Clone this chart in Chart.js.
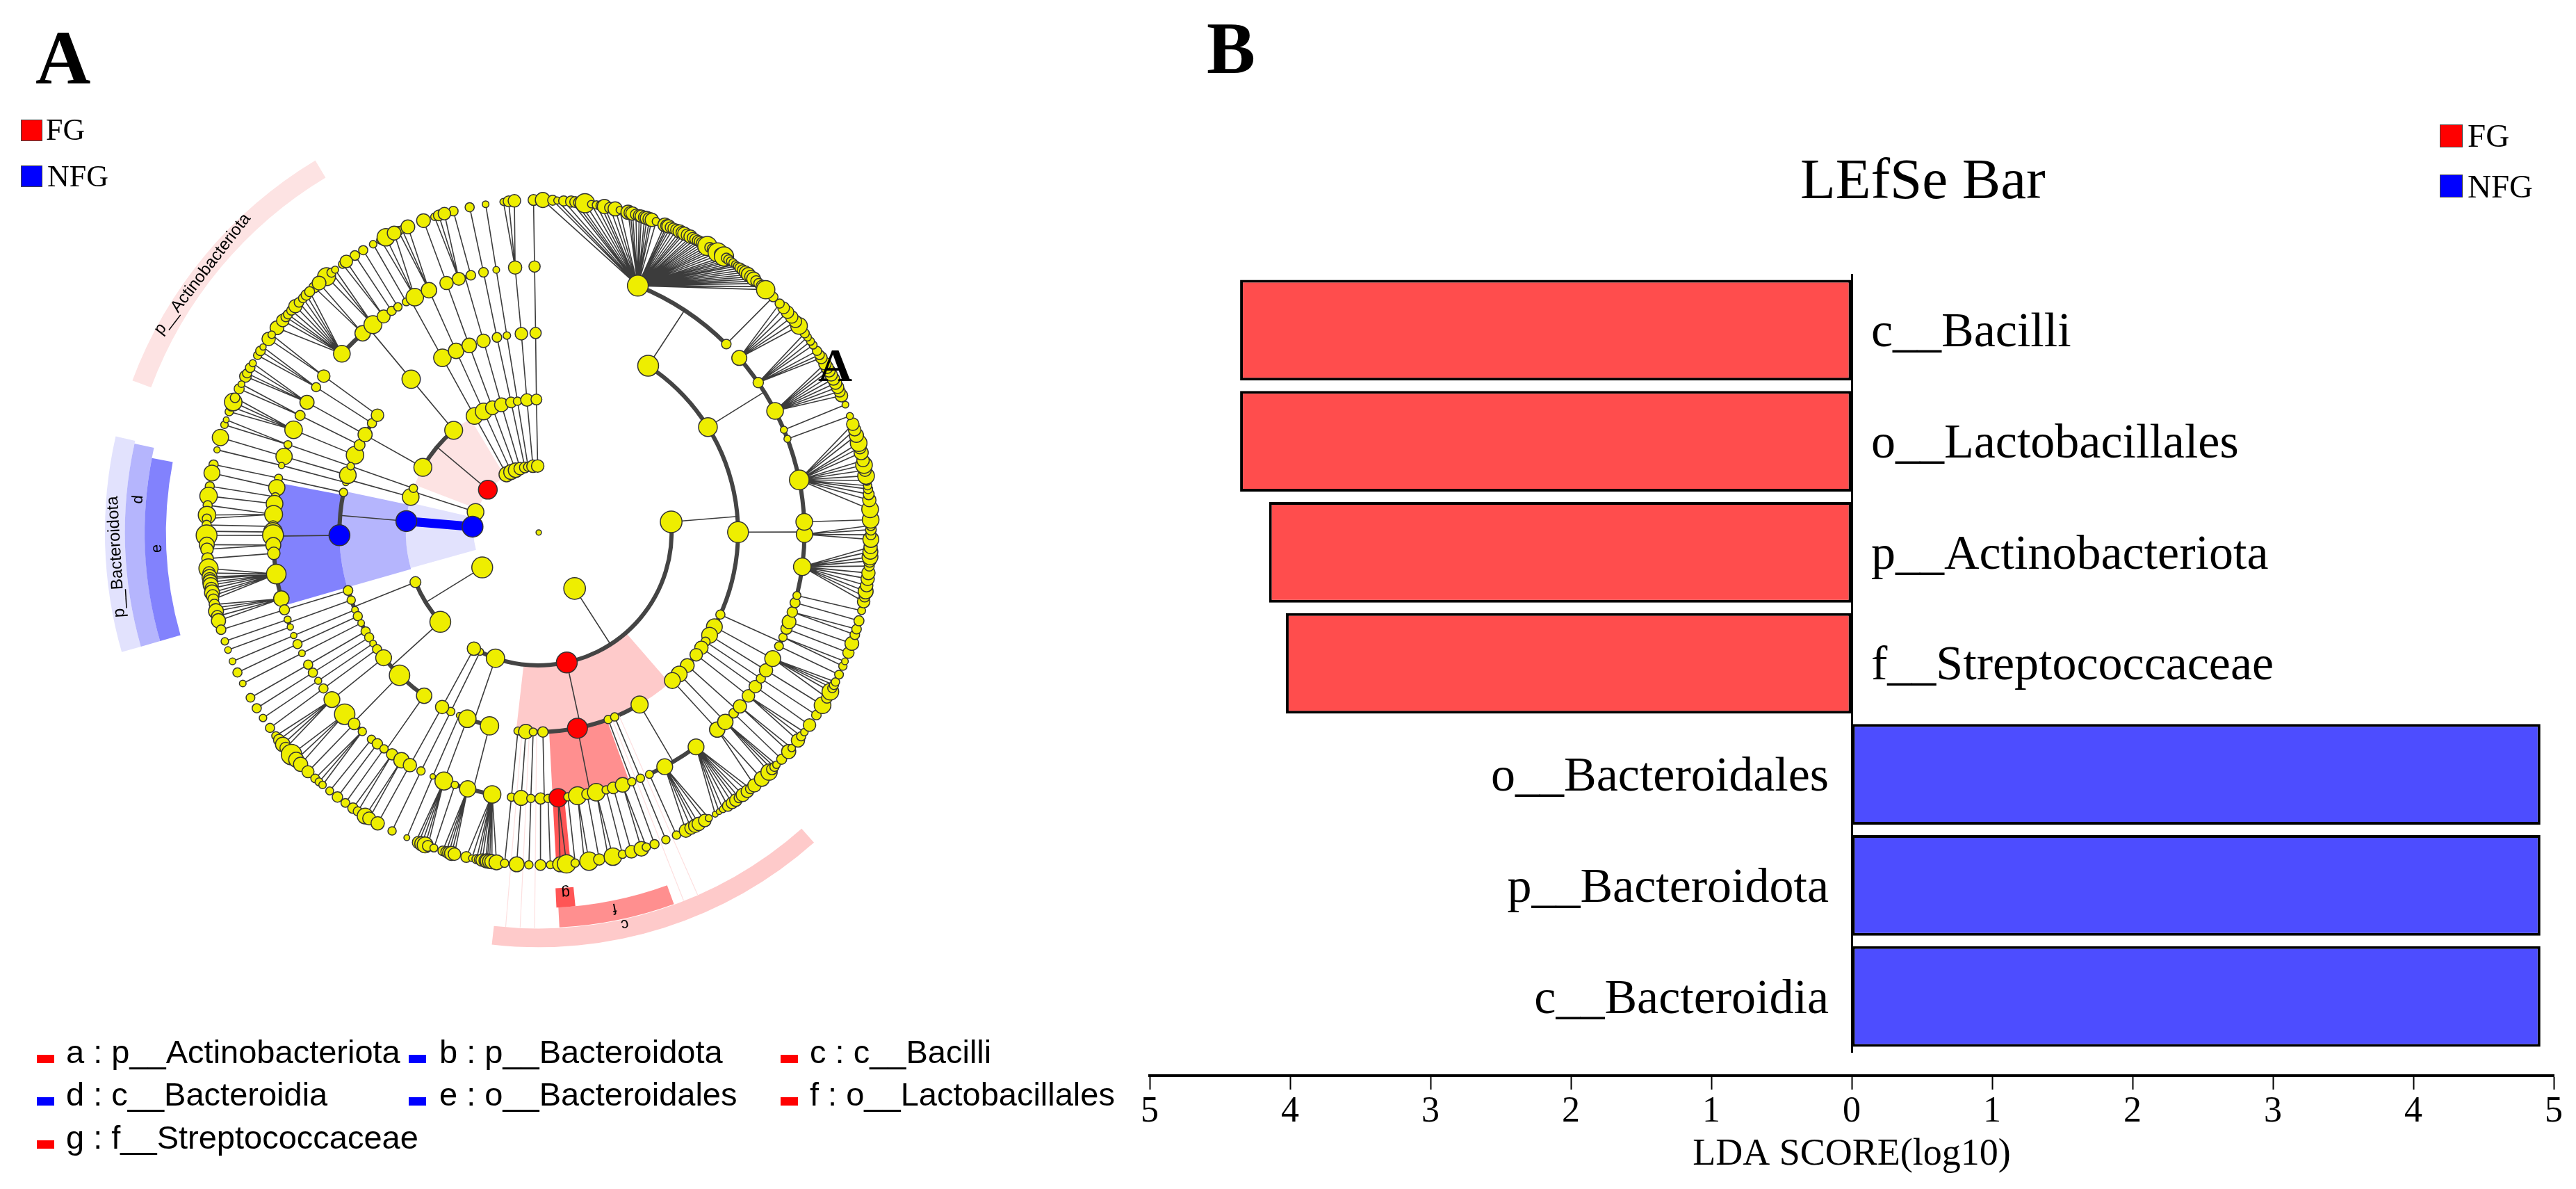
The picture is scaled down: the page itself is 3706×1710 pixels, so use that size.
<!DOCTYPE html>
<html>
<head>
<meta charset="utf-8">
<script src="https://cdn.jsdelivr.net/npm/chart.js@4"></script>
<style>
  html, body { margin: 0; background: #fff; }
  #page { position: relative; width: 3706px; height: 1710px; overflow: hidden; }
  canvas { position: absolute; top: 0; }
  .t { position: absolute; line-height: 1; white-space: pre; color: #000; font-family: "Liberation Serif", serif; z-index: 5; }
  .s { font-family: "Liberation Sans", sans-serif; font-size: 47px; }
  .box { position: absolute; box-sizing: border-box; border: 1px solid #444; z-index: 5; }
  .dash { position: absolute; width: 25px; height: 12px; z-index: 5; }
</style>
</head>
<body>
<div id="page">
  <canvas id="clado" width="1650" height="1710" style="left:0"></canvas>
  <canvas id="lda" width="2106" height="1710" style="left:1600px"></canvas>

  <div class="t" style="left:51px;top:28px;font-size:110px;font-weight:bold">A</div>
  <div class="t" style="left:1736px;top:17px;font-size:105px;font-weight:bold">B</div>
  <div class="t" style="left:1177px;top:491px;font-size:68px;font-weight:bold">A</div>

  <div class="box" style="left:30px;top:172px;width:31px;height:31px;background:#f00"></div>
  <div class="t" style="left:66px;top:165px;font-size:44px">FG</div>
  <div class="box" style="left:30px;top:238px;width:31px;height:31px;background:#00f"></div>
  <div class="t" style="left:68px;top:232px;font-size:44px">NFG</div>

  <div class="box" style="left:3510px;top:179px;width:33px;height:33px;background:#f00"></div>
  <div class="t" style="left:3550px;top:172px;font-size:47px">FG</div>
  <div class="box" style="left:3510px;top:251px;width:33px;height:33px;background:#00f"></div>
  <div class="t" style="left:3550px;top:245px;font-size:47px">NFG</div>

  <div class="t" style="left:2590px;top:216px;font-size:83px">LEfSe Bar</div>

  <div class="dash" style="left:53px;top:1517px;background:#f00"></div>
  <div class="t s" style="left:95px;top:1489px">a : p__Actinobacteriota</div>
  <div class="dash" style="left:588px;top:1517px;background:#00f"></div>
  <div class="t s" style="left:632px;top:1489px">b : p__Bacteroidota</div>
  <div class="dash" style="left:1123px;top:1517px;background:#f00"></div>
  <div class="t s" style="left:1165px;top:1489px">c : c__Bacilli</div>
  <div class="dash" style="left:53px;top:1578px;background:#00f"></div>
  <div class="t s" style="left:95px;top:1550px">d : c__Bacteroidia</div>
  <div class="dash" style="left:588px;top:1578px;background:#00f"></div>
  <div class="t s" style="left:632px;top:1550px">e : o__Bacteroidales</div>
  <div class="dash" style="left:1123px;top:1578px;background:#f00"></div>
  <div class="t s" style="left:1165px;top:1550px">f : o__Lactobacillales</div>
  <div class="dash" style="left:53px;top:1640px;background:#f00"></div>
  <div class="t s" style="left:95px;top:1612px">g : f__Streptococcaceae</div>
</div>

<script>
// panel B values
const taxa = ["c__Bacilli", "o__Lactobacillales", "p__Actinobacteriota", "f__Streptococcaceae",
  "o__Bacteroidales", "p__Bacteroidota", "c__Bacteroidia"];
const ldaScores = [-4.356, -4.356, -4.15, -4.03, 4.905, 4.905, 4.905];
const ldaTicks = [5, 4, 3, 2, 1, 0, 1, 2, 3, 4, 5];

// panel A tree: ring 1 is phylum ... ring 5 is genus, angles in degrees clockwise from the top
// each group is [parent angle, child angles, child abundances]
const ring1Angles = [331, 335.5, 339.6, 343.8, 348, 350.8, 355, 359.1, 310, 288, 275, 238.3, 147.3];
const ring1Abundance = [3.6, 3.6, 3.5, 3, 2.6, 2.2, 3, 3, 4.5, 4, 5, 5, 5.2];

const ring2Groups = [
  [331, [331.1], [4]], [335.5, [335.5], [4]], [339.6, [339.6], [3.3]], [343.8, [343.7], [3.3]],
  [348, [348], [2.6]], [350.8, [350.8], [2]], [355, [354.9], [3]], [359.1, [359], [2.6]],
  [310, [299.3, 320.2], [4.3, 4.3]], [288, [285.5, 289.4], [4, 2]], [275, [274.9], [5]],
  [238.3, [248.1, 227.8], [2.6, 5]],
  [147.3, [85.4, 167.8, 199, 206.2, 209.2], [5.2, 5, 4.4, 1.7, 3.2]]
];

const ring3Groups = [
  [331.1, [331.1], [4.2]], [335.5, [335.5], [3.7]], [339.6, [339.6], [3.5]], [343.7, [343.9], [3.2]],
  [348, [347.9], [2.3]], [350.8, [350.8], [1.8]], [354.9, [355], [3]], [359, [359.1], [2.7]],
  [299.3, [292.8, 296, 299.4, 303.2, 306], [4.2, 2.6, 3.4, 2.2, 3]],
  [320.2, [320.2], [4.4]], [285.5, [284.5, 286.7], [1.5, 4]], [289.4, [289.4], [1.8]],
  [274.9, [269.2, 281.6], [5, 2]],
  [248.1, [253.1, 250.2, 247.2, 245.2, 243, 240.3, 238.3, 236.2, 234.2], [2.3, 2, 1.6, 2.2, 1.6, 2.2, 2.2, 1.6, 2.2]],
  [227.8, [231.1, 224.3, 215.1], [3.8, 4.9, 3.7]],
  [167.8, [186, 183.7, 181.6, 178.8, 168.8, 159.6, 157.6, 149.6], [1.9, 3.5, 1.9, 2.5, 4.8, 2, 2, 4.1]],
  [199, [203.5, 201, 194.3], [1.4, 4.2, 4.4]], [206.2, [206.2], [2]], [209.2, [209], [3.2]],
  [85.4, [33.3, 58.1, 89.9, 114.3, 118.2, 121, 123.2, 125.3, 127.8, 131.8, 135.2, 137.9],
    [5, 4.5, 5, 2.2, 3.8, 3.8, 2.2, 3.2, 3, 3.3, 3.8, 3.8]]
];

const ring4Groups = [
  [331.1, [330.1, 332.2], [1.9, 4.2]], [335.5, [335.6], [3.7]], [339.6, [339.7], [3.2]],
  [343.9, [342.5, 345.2], [3.1, 2.3]], [347.9, [348], [2.3]], [350.8, [350.8], [1.6]],
  [355, [354.9], [3.2]], [359.1, [359.1], [2.7]],
  [320.2, [312.2, 318.5, 321.4, 324.3, 326.4, 328], [4, 3.7, 4.3, 3.1, 2.2, 2]],
  [306, [306], [3]], [303.2, [303.1], [2.2]], [299.4, [299.3], [3.4]], [296, [296.1], [2.4]],
  [292.8, [292.7], [4.2]], [289.4, [289.3], [1.9]], [286.7, [286.6], [3.9]], [284.5, [284.6], [1.5]],
  [281.6, [281.8], [1.9]],
  [269.2, [279.7, 277.7, 276.2, 273.9, 271.3, 270.1, 269.4, 267.3, 265.5, 261, 255.6],
    [3.9, 2, 4, 4.3, 2.7, 4.5, 5, 3.6, 3, 4.7, 3.7]],
  [253.1, [253.1], [2.4]], [250.2, [250.9, 249.2], [1.7, 1.5]], [247.2, [247.2], [1.5]],
  [245.2, [245.2], [2.2]], [243, [243], [1.6]], [240.3, [240.2], [2.2]], [238.3, [238.2], [2.2]],
  [236.2, [236.1], [1.7]], [234.2, [234.1], [2.2]], [231.1, [231.1], [3.8]],
  [224.3, [226.9, 224, 221.6], [4.9, 2.8, 2]],
  [215.1, [219, 217.4, 215.6, 213.5, 211.1], [2, 2.5, 2, 2.7, 3.7]],
  [209, [209], [3.2]], [206.2, [206.3], [2]], [203.5, [203.5], [1.3]], [201, [200.9], [4.3]],
  [194.3, [198.4, 195.5, 190.1], [1.8, 3.9, 4.2]],
  [186, [185.9], [2]], [183.7, [183.8], [3.6]], [181.6, [181.7], [2]], [178.8, [179.6, 178], [2.7, 2]],
  [168.8, [175.8, 173.7, 171.6, 169.5, 167.5, 165.3, 163.7, 161.6], [4.4, 2, 4.3, 2.6, 4.2, 2, 2.8, 3.5]],
  [159.6, [159.5], [2]], [157.6, [157.5], [2]], [149.6, [155.4, 151.7, 143.7], [1.9, 3.8, 3.8]],
  [137.9, [137.8], [3.7]], [135.2, [135.4], [3.7]], [131.8, [132.8, 130.8], [2.3, 3.2]],
  [127.8, [127.9], [3]], [125.3, [125.4], [3]], [123.2, [123.3], [2.2]], [121, [121.2], [3.2]],
  [118.2, [118.3], [3.8]],
  [114.3, [115.3, 113.2, 111.2, 109.6, 107.4, 105.3], [2.1, 2, 2.7, 3.3, 2.5, 2.4]],
  [89.9, [90.4, 97.4, 103.7], [3.9, 4.2, 1.9]],
  [58.1, [49, 55.7, 62.8, 67.3, 69.4, 78.6, 87.7], [3.6, 2.5, 4, 1.7, 1.7, 4.7, 4]],
  [33.3, [21.9, 44.9], [5, 2.3]]
];

const ring5Groups = [
  [359.1, [359.1], [2.6]], [354.9, [353.9, 354.8, 355.8], [1.7, 2.6, 3]], [350.8, [350.8], [1.6]],
  [348, [348], [2.2]], [345.2, [345.1], [2.3]], [342.5, [341.7, 342.5, 343.5], [1.8, 2.6, 3]],
  [339.7, [339.7], [3.3]], [335.6, [335, 335.7, 336.8], [2.2, 1.8, 3.3]],
  [332.2, [331.6, 332.6, 334.2], [2, 4.2, 3.3]], [330.1, [330.1], [1.8]], [328, [328.1], [2.2]],
  [326.4, [326.4], [2.3]], [324.3, [323.8, 324.6], [2, 3]], [321.4, [320.3, 321.4, 322.2], [4.3, 2.2, 1.7]],
  [318.5, [317.5, 318.6], [2.6, 3.3]],
  [312.2, [308, 309.6, 310.4, 311, 311.9, 312.9, 313.8, 314.8, 315.6, 316.4], [3.3, 3, 2.3, 2.2, 2.3, 3.2, 2.3, 2.2, 2.5, 2.4]],
  [306, [305.6, 306.5], [3.2, 1.8]], [303.1, [302.2, 303.1, 303.9], [2, 2.3, 1.5]],
  [299.3, [298, 298.6, 299.7, 300.6], [2.8, 2.2, 2.3, 1.7]], [296.1, [295.6, 296.5], [2.4, 1.6]],
  [292.7, [291.3, 292.2, 293.1, 293.9], [2, 2, 4.2, 2.3]], [289.3, [288.9, 289.8], [1.8, 1.4]],
  [286.6, [286.6], [3.9]], [284.6, [284.4], [1.5]], [281.8, [281.8], [2.2]],
  [279.7, [280.3], [3.8]], [277.7, [278], [2.2]], [276.2, [276.3], [4.2]],
  [273.9, [274.7, 273, 272.4], [2.2, 4.2, 2.2]], [271.3, [271.3], [2.2]], [270.1, [270.2], [3]],
  [269.4, [269.5], [5]], [267.3, [267.9, 267.1], [3.6, 3]], [265.5, [265.5], [2.8]],
  [261, [263.8, 263, 262.3, 262, 261.4, 260.9, 260.3, 259.6, 259, 258.4], [4.6, 3, 3.6, 3, 3.6, 3.6, 3, 3.6, 3, 2.6]],
  [255.6, [257.5, 256.9, 256.3, 255.4, 254.6], [2.5, 2, 3.6, 2.8, 3.4]],
  [253.1, [253], [2.3]], [250.9, [250.9], [1.8]], [249.2, [249.3], [1.6]], [247.2, [247.2], [1.6]],
  [245.2, [245.1], [2.2]], [243, [243], [1.6]], [240.2, [240.2], [2.1]], [238.2, [238.1], [2.2]],
  [236.1, [236.1], [1.8]], [234.1, [234], [2.2]],
  [231.1, [232.3, 231.4, 230.4, 229.6], [2, 2.7, 3.5, 2.8]],
  [226.9, [228.1, 226.9, 225.8], [4.9, 3.6, 3.4]], [224, [224], [2.9]],
  [221.6, [222.3, 221.4, 220.6], [2.1, 1.9, 1.8]], [219, [219], [1.9]], [217.4, [217.3], [2.5]],
  [215.6, [215.6], [2.1]], [213.5, [214, 213], [2.5, 2.2]], [211.1, [211.5, 210.7], [3.8, 3.1]],
  [209, [209], [3.2]], [206.3, [206.2], [2]], [203.5, [203.4], [1.4]],
  [200.9, [201.7, 201.2, 200.6, 200, 199.5], [1.5, 3, 3.4, 3.8, 2.6]], [198.4, [198.4], [1.9]],
  [195.5, [196.8, 196.2, 195.7, 195.2, 194.7], [2.3, 2.5, 3, 3.4, 3]],
  [190.1, [192.6, 191.6, 190.8, 190.3, 189.8, 189.2, 188.9, 188.5, 188.1, 187.3], [2.6, 1.6, 2.2, 2.4, 3, 3.2, 3.4, 3.4, 3.4, 3.6]],
  [185.9, [185.9], [2]], [183.8, [183.8], [3.6]], [181.7, [181.7], [2]], [179.6, [179.7], [2.6]],
  [178, [178], [1.9]], [175.8, [176.3, 175.2], [3.6, 4.4]], [173.7, [173.7], [2]],
  [171.6, [172.1, 171.3], [1.6, 4.4]], [169.5, [169.5], [2.7]], [167.5, [167.9, 167.1], [1.5, 4.2]],
  [165.3, [165.4], [2]], [163.7, [163.8], [3]], [161.6, [162, 161.1], [3.5, 2]], [159.5, [159.6], [2.2]],
  [157.5, [157.5], [2]], [155.4, [155.5], [2]],
  [151.7, [153.7, 152.7, 151.9, 151.2, 150, 149.2], [3.2, 3, 3.2, 3.2, 3, 1.7]],
  [143.7, [147.9, 147.1, 146.3, 145.3, 144.4, 143.6, 142.9, 142.1, 141.1, 140.4], [1.4, 1.4, 1.7, 2.6, 2.8, 3, 2.4, 3.2, 3, 2.4]],
  [137.8, [139.5, 137.8], [3.2, 3.6]], [135.4, [136.1, 135.4, 134.8, 134.3], [3.9, 2.6, 2.2, 1.8]],
  [132.8, [133], [2.4]], [130.8, [131.2, 130.4], [3.4, 1.8]],
  [127.9, [128.7, 127.8, 126.9], [3.2, 2.2, 1.8]], [125.4, [125.4], [3]], [123.3, [123.3], [2.3]],
  [121.2, [121.3], [4]], [118.3, [119.8, 118.6, 117.9, 117.3, 116.7], [2.6, 4, 2.2, 2.2, 2]],
  [115.3, [115.3], [2.1]], [113.2, [113.7, 112.8], [2, 1.6]], [111.2, [111.2], [2.7]],
  [109.6, [109.5], [3.3]], [107.4, [107.9, 106.9], [2.3, 2.3]], [105.3, [105.4], [2.4]], [103.7, [103.6], [1.9]],
  [97.4, [102, 101.1, 100.2, 99.2, 98, 97, 95.8, 94.9, 94.2, 93.3, 92.5], [3, 2.6, 3.6, 3, 3.2, 3.2, 2.4, 3, 3.8, 3.6, 3.2]],
  [90.4, [91.2, 90.4, 89.5, 88.8], [3.8, 2.4, 2.6, 2.4]], [87.7, [87.8], [4]],
  [78.6, [86, 84.4, 83.4, 82.5, 81.9, 81, 80.2, 79.2, 78.3, 77.5, 76.1, 75.2, 74.4, 73, 72, 71],
    [4, 3.2, 2.6, 2.2, 2, 2.3, 4, 3, 4, 3, 3.4, 3, 4, 3.4, 3, 3]],
  [69.4, [69.5], [1.7]], [67.3, [67.4], [1.6]],
  [62.8, [65.7, 64.9, 64.1, 63.3, 62.5, 61.7, 60.9, 60.2, 59.5], [3, 2.7, 3, 3, 3, 3, 3, 3, 3]],
  [55.7, [58.3, 57.7, 56.9, 55.7, 54.9, 54, 53.2], [2.8, 2.3, 2.2, 1.9, 1.9, 1.9, 2.2]],
  [49, [51.6, 50.6, 49.6, 48.5, 47.5, 46.5], [4, 3, 3, 3, 2.8, 2.2]], [44.9, [44.9], [2.3]],
  [21.9, [0.7, 2.4, 3.2, 4.3, 5.6, 6.3, 7, 8, 9.1, 10, 10.8, 11.4, 12.4, 13.3, 14.1, 15.6, 16, 16.4, 17, 17.6, 18, 18.6, 19,
      19.5, 19.9, 20.7, 22.3, 22.7, 23, 23.4, 23.9, 24.5, 25.1, 25.6, 26, 26.6, 27.2, 27.6, 28.1, 28.6, 29, 29.5, 30, 30.5,
      31, 31.5, 32, 32.6, 33.2, 33.9, 34.4, 34.9, 35.3, 35.8, 36.3, 36.7, 37.3, 37.9, 38.5, 39.1, 39.7, 40.3, 40.9, 41.5, 42.3, 43.1],
    [3.6, 2.4, 1.7, 2.4, 2.7, 2.6, 2.7, 4.6, 1.8, 2, 2.4, 3.4, 2.6, 3.4, 1.7, 3.4, 3, 3.2, 2.6, 2.8, 3, 3, 3.2,
      3.2, 3.2, 1.9, 3.3, 3, 3.2, 2.6, 2.6, 2.8, 3.2, 3, 3.2, 3, 3.2, 2.6, 2.6, 2.6, 2.6, 2.8, 3, 4.6,
      2.4, 2.4, 2.4, 4.6, 3, 4.6, 2.4, 2.4, 2, 2, 1.8, 1.8, 2.4, 2.6, 3, 3.3, 3, 3.3, 2.6, 2.4, 3, 4.4]]
];

const fgNodes = [[1, 310], [2, 167.8], [3, 168.8], [4, 175.8]];
const nfgNodes = [[1, 275], [2, 274.9], [3, 269.2]];

// highlighted clades: wedge and outer band, in ring units
const cladeFrom = [291, 290.5, 254.5, 254, 254, 254, 254, 254, 139, 138.4, 160, 160, 174.5, 174.4];
const cladeTo = [329, 329, 283, 282.8, 282, 282.4, 280.8, 280.9, 186.5, 186.5, 177, 177, 177, 177.3];
const cladeInner = [0.98, 6.23, 0.98, 6.23, 2, 5.93, 3, 5.61, 2, 5.96, 3, 5.65, 4, 5.36];
const cladeOuter = [2, 6.53, 2, 6.53, 3, 6.23, 4, 5.93, 3, 6.24, 4, 5.95, 5, 5.65];
const cladeTint = ["#fde3e3", "#fde3e3", "#e2e2fd", "#e2e2fd", "#b5b5fd", "#b5b5fd", "#8282fd", "#8282fd",
  "#fecaca", "#fecaca", "#ff8f8f", "#ff8f8f", "#ff5555", "#ff5555"];

// faint leftovers of the clade shading outside the tree
const faintAngles = [184.8, 182.7, 180.6, 158.5, 156.3];

const bandLabels = ["p__Actinobacteriota", "p__Bacteroidota", "d", "e", "g", "f", "c"];
const bandLabelAngles = [307.5, 266.7, 274.7, 267.6, 175.7, 168.6, 167.6];
const bandLabelRings = [6.38, 6.37, 6.05, 5.75, 5.43, 5.76, 6.03];

const ringPx = 97.6;

function polar(ring, angle) {
  const t = angle * Math.PI / 180;
  return { x: ring * Math.sin(t), y: ring * Math.cos(t) };
}

const gap = { x: NaN, y: NaN };
const isIn = (list, ring, angle) => list.some(n => n[0] === ring && n[1] === angle);
const nodeColor = (ring, angle) => isIn(fgNodes, ring, angle) ? "#ff0000" : isIn(nfgNodes, ring, angle) ? "#0000ff" : "#eeee00";

const nodes = [{ ...polar(0, 0), abundance: 1.3, color: "#eeee00" }];
const edges = [];
const thickArcs = [];

ring1Angles.forEach((a, i) => nodes.push({ ...polar(1, a), abundance: ring1Abundance[i], color: nodeColor(1, a) }));

[ring2Groups, ring3Groups, ring4Groups, ring5Groups].forEach((groups, g) => {
  const ring = g + 2;
  groups.forEach(([parent, angles, abundance]) => {
    angles.forEach((a, i) => nodes.push({ ...polar(ring, a), abundance: abundance[i], color: nodeColor(ring, a) }));
    if (ring === 5 || angles.length === 1) {
      angles.forEach(a => edges.push(polar(ring - 1, parent), polar(ring, a), gap));
    } else {
      edges.push(polar(ring - 1, parent), polar(ring, parent), gap);
      thickArcs.push({ ring, from: Math.min(...angles, parent), to: Math.max(...angles, parent) });
    }
  });
});

const faintLines = [];
faintAngles.forEach(a => faintLines.push(polar(3, a), polar(5.95, a), gap));
const blueStem = [polar(1, nfgNodes[0][1]), polar(2, nfgNodes[1][1])];

const cladeShapes = {
  id: "cladeShapes",
  beforeDatasetsDraw(chart) {
    const { ctx, scales: { x, y } } = chart;
    const cx = x.getPixelForValue(0), cy = y.getPixelForValue(0);
    const px = ring => x.getPixelForValue(ring) - cx;
    const rad = a => (a - 90) * Math.PI / 180;
    ctx.save();
    cladeFrom.forEach((from, i) => {
      ctx.beginPath();
      ctx.arc(cx, cy, px(cladeOuter[i]), rad(from), rad(cladeTo[i]));
      ctx.arc(cx, cy, px(cladeInner[i]), rad(cladeTo[i]), rad(from), true);
      ctx.closePath();
      ctx.fillStyle = cladeTint[i];
      ctx.fill();
    });
    ctx.strokeStyle = "#444";
    ctx.lineWidth = 6;
    thickArcs.forEach(a => {
      ctx.beginPath();
      ctx.arc(cx, cy, px(a.ring), rad(a.from), rad(a.to));
      ctx.stroke();
    });
    ctx.fillStyle = "#000";
    ctx.textAlign = "center";
    ctx.textBaseline = "middle";
    bandLabels.forEach((label, i) => {
      const p = polar(bandLabelRings[i], bandLabelAngles[i]);
      ctx.save();
      ctx.translate(x.getPixelForValue(p.x), y.getPixelForValue(p.y));
      ctx.rotate(bandLabelAngles[i] * Math.PI / 180);
      ctx.font = (label.length > 1 ? 24 : 22) + 'px "Liberation Sans"';
      ctx.fillText(label, 0, 0);
      ctx.restore();
    });
    ctx.restore();
  }
};

new Chart(document.getElementById("clado"), {
  type: "scatter",
  data: {
    datasets: [
      {
        data: nodes, order: 0, clip: false,
        pointRadius: c => (c.raw ? c.raw.abundance * 3 : 0),
        pointBackgroundColor: c => (c.raw ? c.raw.color : "#eeee00"),
        pointBorderColor: "#333", pointBorderWidth: 1.5
      },
      { data: blueStem, order: 1, showLine: true, pointRadius: 0, borderColor: "#0000ff", borderWidth: 13 },
      { data: edges, order: 2, showLine: true, pointRadius: 0, borderColor: "#3c3c3c", borderWidth: 1.6, spanGaps: false },
      { data: faintLines, order: 3, showLine: true, pointRadius: 0, borderColor: "#fde0e0", borderWidth: 1.2, spanGaps: false }
    ]
  },
  options: {
    responsive: false,
    animation: false,
    events: [],
    layout: { padding: 0 },
    plugins: { legend: { display: false }, tooltip: { enabled: false } },
    scales: {
      x: { display: false, min: -774 / ringPx, max: (1650 - 774) / ringPx },
      y: { display: false, min: -(1710 - 764) / ringPx, max: 764 / ringPx }
    }
  },
  plugins: [cladeShapes]
});

const taxonLabels = {
  id: "taxonLabels",
  afterDatasetsDraw(chart) {
    const { ctx, scales: { x, y } } = chart;
    ctx.save();
    ctx.font = '70px "Liberation Serif"';
    ctx.fillStyle = "#000";
    ctx.textBaseline = "middle";
    taxa.forEach((name, i) => {
      const left = ldaScores[i] > 0;
      ctx.textAlign = left ? "right" : "left";
      ctx.fillText(name, x.getPixelForValue(0) + (left ? -33 : 28), y.getPixelForValue(i) + 5);
    });
    ctx.restore();
  }
};

new Chart(document.getElementById("lda"), {
  type: "bar",
  data: {
    labels: taxa,
    datasets: [{
      data: ldaScores,
      backgroundColor: ldaScores.map(v => (v < 0 ? "#ff4d4d" : "#4d4dff")),
      borderColor: "#000",
      borderWidth: 4,
      borderSkipped: false,
      barPercentage: 0.906,
      categoryPercentage: 1
    }]
  },
  options: {
    indexAxis: "y",
    responsive: false,
    animation: false,
    events: [],
    layout: { padding: { left: 54, right: 32, top: 395, bottom: 197 } },
    plugins: { legend: { display: false }, tooltip: { enabled: false } },
    scales: {
      x: {
        position: { y: 6.71 },
        min: -5,
        max: 5,
        ticks: {
          stepSize: 1,
          color: "#000",
          padding: 4,
          maxRotation: 0,
          font: { family: "Liberation Serif", size: 52 },
          callback: (v, i) => ldaTicks[i]
        },
        grid: { drawOnChartArea: false, drawTicks: true, tickLength: 18, tickColor: "#000", tickWidth: 2 },
        border: { color: "#000", width: 4 },
        title: {
          display: true,
          text: "LDA SCORE(log10)",
          color: "#000",
          padding: { top: -7, bottom: 0 },
          font: { family: "Liberation Serif", size: 54 }
        }
      },
      y: {
        position: { x: 0 },
        ticks: { display: false },
        grid: { display: false },
        border: { color: "#000", width: 3 }
      }
    }
  },
  plugins: [taxonLabels]
});
</script>
</body>
</html>
